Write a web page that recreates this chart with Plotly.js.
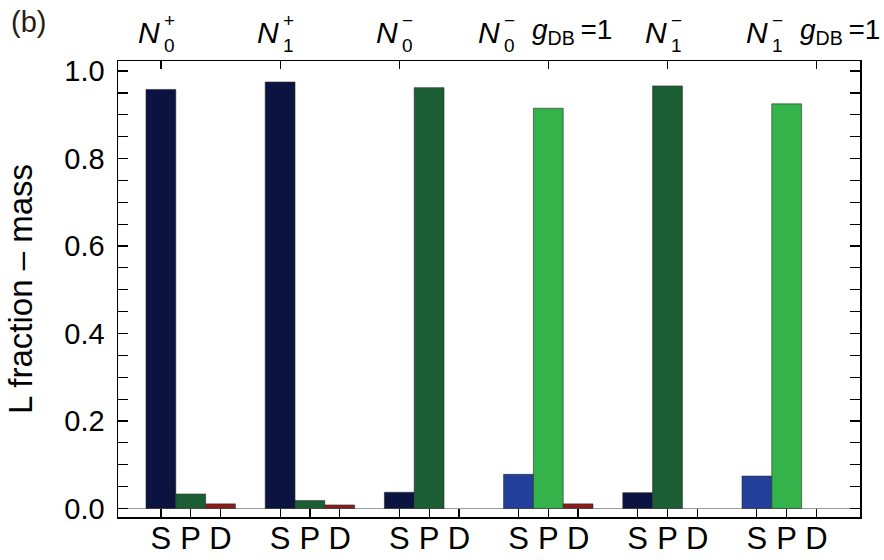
<!DOCTYPE html>
<html>
<head>
<meta charset="utf-8">
<script src="https://cdn.plot.ly/plotly-3.0.1.min.js"></script>
<style>html,body{margin:0;padding:0;background:#fff;}#chart{width:884px;height:560px;}</style>
</head>
<body>
<div id="chart"></div>
<script>
// ---- data ----
var groupBase = ['N', 'N', 'N', 'N', 'N', 'N'];
var groupSup = ['+', '+', '\u2212', '\u2212', '\u2212', '\u2212'];
var groupSub = ['0', '1', '0', '0', '1', '1'];
var groupExtra = ['', '', '', 'g<sub>DB</sub>\u2009=1', '', 'g<sub>DB</sub>\u2009=1'];
var orbitals = ['S', 'P', 'D'];
var sVals = [0.958, 0.975, 0.037, 0.078, 0.036, 0.074];
var pVals = [0.033, 0.018, 0.962, 0.915, 0.966, 0.925];
var dVals = [0.0105, 0.008, 0.0, 0.0105, 0.0, 0.0];
var isDB = [false, false, false, true, false, true];

// ---- styles ----
var navy = '#0b1340', blue = '#22409a';
var dkGreen = '#1c5e33', ltGreen = '#33b34a', dkRed = '#8a1c1c';
var font = 'Liberation Sans, Arial, Helvetica, sans-serif';
var slots = 4; // 3 bars + gap per group
var nG = sVals.length;
var topOffset = [0, 0, 0, 1, 1, 2]; // top tick sits under each label's centre

function xs(k) { return sVals.map(function (_, g) { return g * slots + k; }); }

var series = [sVals, pVals, dVals];
var colors = [
  isDB.map(function (d) { return d ? blue : navy; }),
  isDB.map(function (d) { return d ? ltGreen : dkGreen; }),
  isDB.map(function () { return dkRed; })
];
var traces = series.map(function (vals, k) {
  return {
    type: 'bar', x: xs(k), y: vals, width: 1, name: orbitals[k],
    marker: { color: colors[k], line: { color: 'rgba(40,40,40,0.6)', width: vals.map(function (v) { return v > 0 ? 1 : 0; }) } },
    showlegend: false, hoverinfo: 'x+y'
  };
});

// bottom ticks at every bar
var tickVals = [], tickText = [];
for (var g = 0; g < nG; g++) for (var k = 0; k < 3; k++) { tickVals.push(g * slots + k); tickText.push(orbitals[k]); }
var topPos = [];
for (var g2 = 0; g2 < nG; g2++) topPos.push(g2 * slots + topOffset[g2]);

// dummy trace for top axis
traces.push({ type: 'scatter', x: [topPos[0]], y: [null], xaxis: 'x2', yaxis: 'y', showlegend: false, hoverinfo: 'skip' });

var annotations = [];
for (var i = 0; i < nG; i++) {
  var nShift = groupExtra[i] ? -46 : 1;
  annotations.push({ xref: 'x2', yref: 'paper', x: topPos[i], y: 1, xanchor: 'right', yanchor: 'bottom',
    xshift: nShift, yshift: 10, text: '<i>' + groupBase[i] + '</i>', showarrow: false,
    font: { family: font, size: 30, color: '#000' } });
  annotations.push({ xref: 'x2', yref: 'paper', x: topPos[i], y: 1, xanchor: 'left', yanchor: 'bottom',
    xshift: nShift, yshift: 3, text: groupSup[i] + '<br>' + groupSub[i], showarrow: false, align: 'left',
    font: { family: font, size: 19, color: '#000' } });
  if (groupExtra[i]) {
    annotations.push({ xref: 'x2', yref: 'paper', x: topPos[i], y: 1, xanchor: 'left', yanchor: 'bottom',
      xshift: -18, yshift: 10, text: '<i>' + groupExtra[i].replace('g<sub>', 'g</i><sub>'), showarrow: false,
      font: { family: font, size: 28, color: '#000' } });
  }
}
annotations.push({ xref: 'paper', yref: 'paper', x: -0.147, y: 1.125, xanchor: 'left', yanchor: 'top',
  text: '(b)', showarrow: false, font: { family: font, size: 29, color: '#2a1d12' } });

var xr = [-1.44, 23.46];
var layout = {
  width: 884, height: 560,
  margin: { l: 118, r: 24, t: 61, b: 43 },
  paper_bgcolor: '#fff', plot_bgcolor: '#fff',
  barmode: 'overlay',
  font: { family: font, color: '#000' },
  xaxis: {
    range: xr, showgrid: false, zeroline: false,
    showline: true, linecolor: '#000', linewidth: 1.5, mirror: true,
    tickmode: 'array', tickvals: tickVals, ticktext: tickText,
    ticks: 'inside', ticklen: 8, tickcolor: '#000', tickwidth: 1.2,
    tickfont: { family: font, size: 31, color: '#000' }, ticklabelstandoff: -7
  },
  xaxis2: {
    range: xr, overlaying: 'x', side: 'top', showgrid: false, zeroline: false, showline: false,
    tickmode: 'array', tickvals: topPos, ticktext: topPos.map(function () { return ''; }),
    ticks: 'inside', ticklen: 8, tickcolor: '#000', tickwidth: 1.2
  },
  yaxis: {
    range: [-0.0195, 1.023], showgrid: false,
    zeroline: true, zerolinecolor: '#9a9a9a', zerolinewidth: 1.5,
    showline: true, linecolor: '#000', linewidth: 1.5, mirror: 'allticks',
    tickmode: 'array', tickvals: [0, 0.2, 0.4, 0.6, 0.8, 1.0],
    ticktext: ['0.0', '0.2', '0.4', '0.6', '0.8', '1.0'],
    ticks: 'inside', ticklen: 10, tickcolor: '#000', tickwidth: 1.2,
    minor: { dtick: 0.05, tick0: 0, ticks: 'inside', ticklen: 9, tickcolor: '#000', tickwidth: 1.2 },
    tickfont: { family: font, size: 29, color: '#000' }, ticklabelstandoff: 6,
    title: { text: 'L fraction \u2013 mass', font: { family: font, size: 33, color: '#000' }, standoff: 22 }
  },
  annotations: annotations
};

Plotly.newPlot('chart', traces, layout, { staticPlot: true });
</script>
</body>
</html>
